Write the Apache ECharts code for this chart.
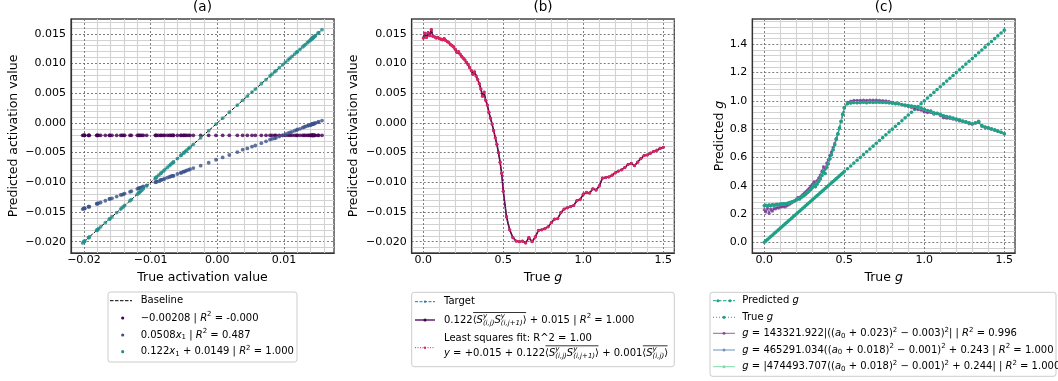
<!DOCTYPE html>
<html>
<head>
<meta charset="utf-8">
<script src="https://cdn.jsdelivr.net/npm/echarts@6/dist/echarts.min.js"></script>
<style>
html,body{margin:0;padding:0;background:#fff;}
#chart{width:1058px;height:381px;}
</style>
</head>
<body>
<div id="chart"></div>
<script>
// ---------------- DATA ----------------
const trueG = [0.00,0.01,0.02,0.03,0.04,0.05,0.06,0.07,0.08,0.09,
  0.10,0.11,0.12,0.13,0.14,0.15,0.16,0.17,0.18,0.19,
  0.20,0.21,0.22,0.23,0.24,0.25,0.26,0.27,0.28,0.29,
  0.30,0.31,0.32,0.33,0.34,0.35,0.36,0.37,0.38,0.39,
  0.40,0.41,0.42,0.43,0.44,0.45,0.46,0.47,0.48,0.49,0.50,
  0.52,0.54,0.56,0.58,0.60,0.62,0.64,0.66,0.68,0.70,
  0.72,0.74,0.76,0.78,0.80,0.82,0.84,0.86,0.88,0.90,
  0.92,0.94,0.96,0.98,1.00,1.02,1.04,1.06,1.08,1.10,
  1.12,1.14,1.16,1.18,1.20,1.22,1.24,1.26,1.28,1.30,
  1.32,1.34,1.36,1.38,1.40,1.42,1.44,1.46,1.48,1.50];

// target activation (panel b), also the x values of panel a
const targetAct = [0.0143,0.0151,0.0144,0.0152,0.0147,0.0157,0.0146,0.0145,0.0143,0.0144,
  0.0142,0.0141,0.0140,0.0142,0.0139,0.0137,0.0135,0.0132,0.0130,0.0128,
  0.0124,0.0119,0.0120,0.0116,0.0112,0.0109,0.0106,0.0102,0.0098,0.0093,
  0.0088,0.0082,0.0086,0.0079,0.0073,0.0066,0.0057,0.0045,0.0052,0.0038,
  0.0030,0.0018,0.0008,-0.0002,-0.0013,-0.0025,-0.0036,-0.0050,-0.0066,-0.0085,-0.0115,
  -0.0158,-0.0180,-0.0193,-0.0199,-0.0200,-0.0199,-0.0202,-0.0193,-0.0200,-0.0192,
  -0.0181,-0.0180,-0.0178,-0.0175,-0.0168,-0.0162,-0.0161,-0.0151,-0.0145,-0.0143,
  -0.0141,-0.0139,-0.0131,-0.0129,-0.0120,-0.0117,-0.0118,-0.0111,-0.0113,-0.0106,
  -0.0093,-0.0092,-0.0091,-0.0088,-0.0084,-0.0081,-0.0079,-0.0075,-0.0070,-0.0068,
  -0.0072,-0.0066,-0.0060,-0.0055,-0.0054,-0.0051,-0.0048,-0.0046,-0.0043,-0.0041];

// panel a: constant model prediction
const constPred = -0.00208;
// panel a: 0.0508 x1 model prediction
const linPred = [-0.0002,0.0001,-0.0001,0.0002,0.0000,0.0004,-0.0001,-0.0001,-0.0002,-0.0001,
  -0.0002,-0.0003,-0.0003,-0.0002,-0.0004,-0.0004,-0.0005,-0.0006,-0.0007,-0.0008,
  -0.0010,-0.0012,-0.0011,-0.0013,-0.0015,-0.0016,-0.0017,-0.0019,-0.0021,-0.0023,
  -0.0025,-0.0027,-0.0026,-0.0028,-0.0031,-0.0034,-0.0038,-0.0043,-0.0040,-0.0045,
  -0.0049,-0.0054,-0.0058,-0.0062,-0.0067,-0.0072,-0.0076,-0.0082,-0.0089,-0.0096,-0.0109,
  -0.0127,-0.0136,-0.0141,-0.0144,-0.0144,-0.0144,-0.0145,-0.0141,-0.0144,-0.0141,
  -0.0136,-0.0136,-0.0135,-0.0134,-0.0131,-0.0128,-0.0128,-0.0124,-0.0121,-0.0121,
  -0.0120,-0.0119,-0.0116,-0.0115,-0.0111,-0.0110,-0.0110,-0.0107,-0.0108,-0.0105,
  -0.0100,-0.0099,-0.0099,-0.0098,-0.0096,-0.0095,-0.0094,-0.0092,-0.0090,-0.0089,
  -0.0091,-0.0089,-0.0086,-0.0084,-0.0084,-0.0082,-0.0081,-0.0080,-0.0079,-0.0078];

// panel c: predicted g
const predG = [0.258,0.262,0.255,0.264,0.259,0.266,0.262,0.265,0.268,0.266,
  0.270,0.271,0.272,0.270,0.274,0.277,0.281,0.285,0.289,0.294,
  0.300,0.308,0.306,0.316,0.325,0.333,0.342,0.352,0.362,0.374,
  0.387,0.402,0.393,0.412,0.430,0.448,0.472,0.500,0.486,0.530,
  0.556,0.590,0.620,0.655,0.690,0.728,0.766,0.808,0.855,0.905,0.950,
  0.980,0.985,0.988,0.987,0.988,0.990,0.987,0.990,0.989,0.990,
  0.991,0.989,0.988,0.986,0.984,0.980,0.979,0.974,0.970,0.967,
  0.963,0.960,0.955,0.950,0.940,0.932,0.928,0.915,0.912,0.905,
  0.895,0.890,0.885,0.878,0.872,0.866,0.858,0.852,0.845,0.838,
  0.845,0.855,0.825,0.815,0.810,0.802,0.795,0.786,0.778,0.768];

// panel c: fit 1 (R^2 = 0.996)
const fit1G = [0.230,0.215,0.240,0.205,0.235,0.220,0.238,0.236,0.245,0.242,
  0.250,0.252,0.254,0.250,0.258,0.264,0.270,0.278,0.285,0.292,
  0.302,0.318,0.314,0.326,0.337,0.348,0.358,0.370,0.382,0.396,
  0.410,0.428,0.416,0.436,0.456,0.476,0.502,0.535,0.515,0.560,
  0.585,0.615,0.640,0.670,0.700,0.735,0.770,0.810,0.855,0.905,0.955,
  0.990,0.998,1.003,1.004,1.004,1.006,1.004,1.006,1.005,1.006,
  1.004,1.002,1.000,0.996,0.990,0.984,0.982,0.972,0.965,0.960,
  0.953,0.948,0.938,0.934,0.922,0.917,0.918,0.906,0.909,0.897,
  0.880,0.878,0.876,0.870,0.864,0.858,0.853,0.847,0.838,0.834,
  0.841,0.848,0.820,0.810,0.806,0.800,0.792,0.786,0.778,0.768];

// ---------------- HELPERS ----------------
const FONT = 'DejaVu Sans';
const fmt = (v, d) => v.toFixed(d).replace('-', '\u2212');
const pairs = (xs, ys) => xs.map((x, i) => [x, ys[i]]);
const sortedT = targetAct.slice().sort((a, b) => a - b);

const C_PURPLE = '#440154', C_BLUE = '#3b528b', C_TEAL = '#21918c';
const C_GREEN = '#1fa187';
const C_RED = '#e0245e';
const C_FIT1 = 'rgba(120,60,150,0.8)';

function axisBase(extra) {
  return Object.assign({
    type: 'value',
    axisTick: {show: false},
    axisLine: {show: true, onZero: false, lineStyle: {color: '#333', width: 1.2}},
    splitLine: {show: true, lineStyle: {color: '#707070', type: [2, 2], width: 0.9}},
    minorTick: {show: false, splitNumber: 5},
    minorSplitLine: {show: true, lineStyle: {color: '#d2d2d2', width: 1.1}},
    nameLocation: 'middle',
    nameTextStyle: {fontSize: 12.5, color: '#000', fontFamily: FONT, verticalAlign: 'middle',
      rich: {i: {fontStyle: 'italic', fontSize: 12.5, fontFamily: FONT, color: '#000'}}}
  }, extra);
}
function lab(d, margin) {
  return {formatter: v => fmt(v, d), showMinLabel: false, showMaxLabel: false,
    fontSize: 11, color: '#000', fontFamily: FONT, margin: margin};
}

const grids = [
  {left: 71, top: 19, width: 263, height: 234},
  {left: 411.7, top: 19, width: 262.6, height: 234},
  {left: 752.3, top: 19, width: 262.7, height: 234}
].map(g => Object.assign(g, {show: true, borderColor: '#444', borderWidth: 1.3, backgroundColor: '#fff', containLabel: false}));

const xAxes = [
  axisBase({gridIndex: 0, min: -0.02195, max: 0.0175, splitNumber: 4, axisLabel: lab(2, 2),
    name: 'True activation value', nameGap: 22}),
  axisBase({gridIndex: 1, min: -0.0725, max: 1.569, splitNumber: 3, axisLabel: lab(1, 2),
    name: 'True {i|g}', nameGap: 22}),
  axisBase({gridIndex: 2, min: -0.075, max: 1.567, splitNumber: 3, axisLabel: lab(1, 2),
    name: 'True {i|g}', nameGap: 22})
];
const yAxes = [
  axisBase({gridIndex: 0, min: -0.0219, max: 0.0175, splitNumber: 8, axisLabel: lab(3, 5),
    name: 'Predicted activation value', nameGap: 57.7}),
  axisBase({gridIndex: 1, min: -0.0219, max: 0.0175, splitNumber: 8, axisLabel: lab(3, 5),
    name: 'Predicted activation value', nameGap: 57.7}),
  axisBase({gridIndex: 2, min: -0.0756, max: 1.579, splitNumber: 8, axisLabel: lab(1, 5),
    name: 'Predicted {i|g}', nameGap: 32.3})
];

const series = [
  // panel a
  {type: 'line', xAxisIndex: 0, yAxisIndex: 0, data: sortedT.map(t => [t, t]), showSymbol: false,
    lineStyle: {color: '#000', width: 1, type: [3.5, 1.5]}, z: 2},
  {type: 'scatter', xAxisIndex: 0, yAxisIndex: 0, data: targetAct.map(t => [t, constPred]),
    symbolSize: 3.8, itemStyle: {color: C_PURPLE}, z: 3},
  {type: 'scatter', xAxisIndex: 0, yAxisIndex: 0, data: pairs(targetAct, linPred),
    symbolSize: 3.8, itemStyle: {color: C_BLUE}, z: 3},
  {type: 'scatter', xAxisIndex: 0, yAxisIndex: 0, data: pairs(targetAct, targetAct),
    symbolSize: 3.8, itemStyle: {color: C_TEAL}, z: 3},
  // panel b
  {type: 'line', xAxisIndex: 1, yAxisIndex: 1, data: pairs(trueG, targetAct), showSymbol: false,
    lineStyle: {color: '#1f77b4', width: 1, type: [3.5, 1.5]}, z: 2},
  {type: 'line', xAxisIndex: 1, yAxisIndex: 1, data: pairs(trueG, targetAct), symbol: 'circle', symbolSize: 2.8,
    itemStyle: {color: C_PURPLE}, lineStyle: {color: C_PURPLE, width: 1.6}, z: 3},
  {type: 'line', xAxisIndex: 1, yAxisIndex: 1, data: pairs(trueG, targetAct), symbol: 'circle', symbolSize: 3.2,
    itemStyle: {color: C_RED}, lineStyle: {color: C_RED, width: 1, type: [1, 1.5]}, z: 4},
  // panel c
  {type: 'line', xAxisIndex: 2, yAxisIndex: 2, data: pairs(trueG, trueG), symbol: 'circle', symbolSize: 3.6,
    itemStyle: {color: C_GREEN}, lineStyle: {color: C_GREEN, width: 1, type: [1, 2]}, z: 3},
  {type: 'line', xAxisIndex: 2, yAxisIndex: 2, data: pairs(trueG, fit1G), symbol: 'circle', symbolSize: 3.2,
    itemStyle: {color: C_FIT1}, lineStyle: {color: C_FIT1, width: 1.2}, z: 3},
  {type: 'line', xAxisIndex: 2, yAxisIndex: 2, data: pairs(trueG, predG), symbol: 'circle', symbolSize: 3,
    itemStyle: {color: '#6f95bb'}, lineStyle: {color: '#6f95bb', width: 1}, z: 3},
  {type: 'line', xAxisIndex: 2, yAxisIndex: 2, data: pairs(trueG, predG), symbol: 'circle', symbolSize: 3,
    itemStyle: {color: '#7fdcaa'}, lineStyle: {color: '#7fdcaa', width: 1}, z: 3},
  {type: 'line', xAxisIndex: 2, yAxisIndex: 2, data: pairs(trueG, predG), symbol: 'circle', symbolSize: 3.6,
    itemStyle: {color: C_GREEN}, lineStyle: {color: C_GREEN, width: 1.2, type: [3.5, 1.5]}, z: 4}
];

// ---------------- LEGENDS (graphic, math text) ----------------
const mctx = document.createElement('canvas').getContext('2d');
function segW(s) {
  mctx.font = (s.it ? 'italic ' : '') + (s.sz || 10) + 'px "' + FONT + '"';
  return mctx.measureText(s.t).width;
}
function mathText(x0, y0, segs) {
  const els = []; let x = x0; let pend = null; const marks = {};
  segs.forEach(s => {
    if (typeof s === 'string') s = {t: s};
    if (s.m) { marks[s.m] = x; return; }
    const w = segW(s);
    els.push({type: 'text', x: x, y: y0 + (s.dy || 0), silent: true, z: 10,
      style: {text: s.t, fontFamily: FONT, fontSize: s.sz || 10, fontStyle: s.it ? 'italic' : 'normal',
        fill: '#000', verticalAlign: 'middle', align: 'left'}});
    if (s.st) { pend = w; } else { x += (pend !== null ? Math.max(pend, w) : w); pend = null; }
  });
  return {els, marks, end: x};
}
const I = t => ({t, it: 1});
const SUP = t => ({t, sz: 7, dy: -3.5});
const SUB = t => ({t, sz: 7, dy: 2.5});
const R2 = [I('R'), SUP('2')];
const Sij = (sub) => [I('S'), {t: 'y', sz: 7, it: 1, dy: -4, st: 1}, {t: sub, sz: 7, it: 1, dy: 3}];
const avgPair = (m) => [{m: m}, '\u27e8'].concat(Sij('(i,j)'), Sij('(i,j+1)'), ['\u27e9', {m: m + '_'}]);
const avgOne = (m) => [{m: m}, '\u27e8'].concat(Sij('(i,j)'), ['\u27e9', {m: m + '_'}]);

const graphics = [];
function hLine(x1, x2, y, color, width, dash) {
  graphics.push({type: 'line', silent: true, z: 10, shape: {x1, y1: y, x2, y2: y},
    style: {stroke: color, lineWidth: width, lineDash: dash || null}});
}
function dot(x, y, r, color) {
  graphics.push({type: 'circle', silent: true, z: 11, shape: {cx: x, cy: y, r}, style: {fill: color}});
}
function legendBox(x, y, w, h) {
  graphics.push({type: 'rect', silent: true, z: 9, shape: {x, y, width: w, height: h, r: 2.5},
    style: {fill: '#fff', stroke: '#cccccc', lineWidth: 1}});
}
function addRows(tx, rows) {
  let maxEnd = 0;
  rows.forEach(r => {
    const res = mathText(tx, r.y, r.segs);
    res.els.forEach(e => graphics.push(e));
    Object.keys(res.marks).forEach(k => {
      if (!k.endsWith('_')) hLine(res.marks[k] + 0.5, res.marks[k + '_'] - 0.5, r.y - 7.5, '#000', 0.8);
    });
    maxEnd = Math.max(maxEnd, res.end);
  });
  return maxEnd;
}

// legend (a)
legendBox(108, 292, 189, 70);
hLine(110, 132, 300.7, '#000', 1, [3.5, 1.5]);
dot(122.7, 318, 1.6, C_PURPLE);
dot(122.7, 335, 1.6, C_BLUE);
dot(122.7, 351.7, 1.6, C_TEAL);
addRows(140.7, [
  {y: 300.7, segs: ['Baseline']},
  {y: 318, segs: ['\u22120.00208 | '].concat(R2, [' = -0.000'])},
  {y: 335, segs: ['0.0508', I('x'), SUB('1'), ' | '].concat(R2, [' = 0.487'])},
  {y: 351.7, segs: ['0.122', I('x'), SUB('1'), ' + 0.0149 | '].concat(R2, [' = 1.000'])}
]);

// legend (b)
legendBox(411.7, 292.3, 262.6, 74.4);
hLine(415, 435, 301.7, '#1f77b4', 1, [3, 1.5]);
dot(425, 301.7, 1.1, '#1f77b4');
hLine(415, 435, 320, C_PURPLE, 1.3);
dot(425, 320, 1.6, C_PURPLE);
hLine(415, 435, 347.7, C_RED, 1, [1, 1.5]);
dot(425, 347.7, 1.2, C_RED);
addRows(444, [
  {y: 301.7, segs: ['Target']},
  {y: 320, segs: ['0.122'].concat(avgPair('o1'), [' + 0.015 | '], R2, [' = 1.000'])},
  {y: 338.3, segs: ['Least squares fit: R^2 = 1.00']},
  {y: 353.3, segs: [I('y'), ' = +0.015 + 0.122'].concat(avgPair('o2'), [' + 0.001'], avgOne('o3'))}
]);

// legend (c)
hLine(713, 735, 300.7, C_GREEN, 1, [3.5, 1.5]);
dot(718, 300.7, 1.5, C_GREEN); dot(730, 300.7, 1.5, C_GREEN);
hLine(713, 735, 317.3, C_GREEN, 1, [1, 2]);
dot(724, 317.3, 1.6, C_GREEN);
hLine(713, 735, 333.3, C_FIT1, 1);
dot(724, 333.3, 1.5, C_FIT1);
hLine(713, 735, 350, '#6f95bb', 1);
dot(724, 350, 1.5, '#6f95bb');
hLine(713, 735, 366.7, '#7fdcaa', 1);
dot(724, 366.7, 1.5, '#7fdcaa');
const legendCRows = [
  {y: 300.7, segs: ['Predicted ', I('g')]},
  {y: 317.3, segs: ['True ', I('g')]},
  {y: 333.3, segs: [I('g'), ' = 143321.922|((', I('a'), SUB('0'), ' + 0.023)', SUP('2'), ' \u2212 0.003)', SUP('2'), '| | '].concat(R2, [' = 0.996'])},
  {y: 350, segs: [I('g'), ' = 465291.034((', I('a'), SUB('0'), ' + 0.018)', SUP('2'), ' \u2212 0.001)', SUP('2'), ' + 0.243 | '].concat(R2, [' = 1.000'])},
  {y: 366.7, segs: [I('g'), ' = |474493.707((', I('a'), SUB('0'), ' + 0.018)', SUP('2'), ' \u2212 0.001)', SUP('2'), ' + 0.244| | '].concat(R2, [' = 1.000'])}
];
legendBox(710, 292.3, 346, 84);
addRows(742.3, legendCRows);

// ---------------- CHART ----------------
const chart = echarts.init(document.getElementById('chart'), null, {renderer: 'canvas'});
chart.setOption({
  animation: false,
  backgroundColor: '#fff',
  textStyle: {fontFamily: FONT},
  title: [
    {text: '(a)', left: 202.5, top: 0, textAlign: 'center', padding: 0, textStyle: {fontSize: 13.5, fontWeight: 'normal', color: '#000', fontFamily: FONT}},
    {text: '(b)', left: 543, top: 0, textAlign: 'center', padding: 0, textStyle: {fontSize: 13.5, fontWeight: 'normal', color: '#000', fontFamily: FONT}},
    {text: '(c)', left: 883.7, top: 0, textAlign: 'center', padding: 0, textStyle: {fontSize: 13.5, fontWeight: 'normal', color: '#000', fontFamily: FONT}}
  ],
  grid: grids,
  xAxis: xAxes,
  yAxis: yAxes,
  series: series,
  graphic: graphics
});
</script>
</body>
</html>
